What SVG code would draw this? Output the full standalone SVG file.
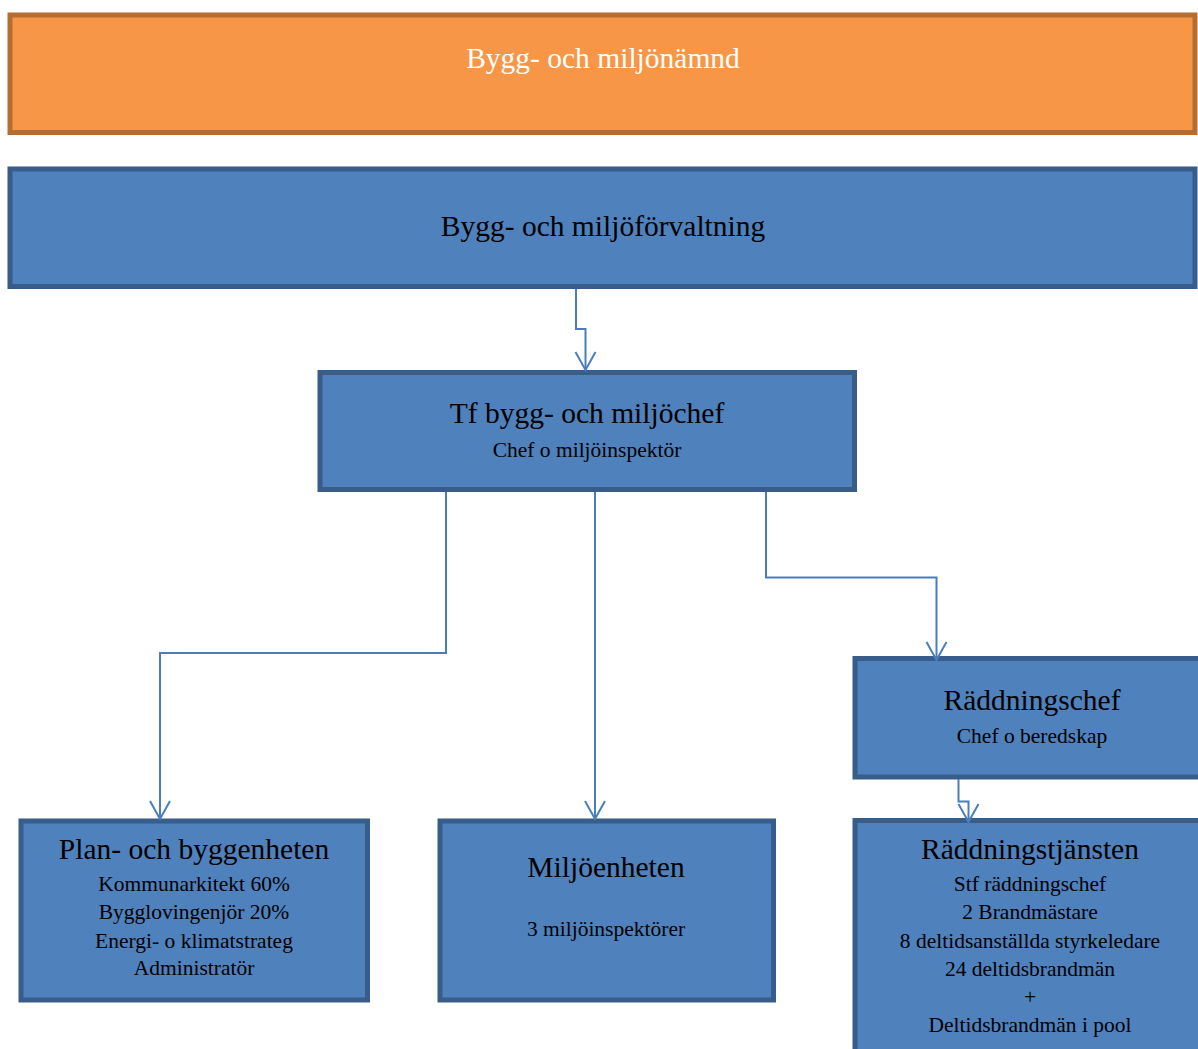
<svg xmlns="http://www.w3.org/2000/svg" width="1198" height="1049" viewBox="0 0 1198 1049">
<style>
.box{fill:#4F81BD;stroke:#385D8A;stroke-width:5}
.top{fill:#F79646;stroke:#B66D31;stroke-width:5}
.t{font-family:"Liberation Serif","Times New Roman",serif;text-anchor:middle;fill:#000}
.h{font-size:29.5px}
.s{font-size:21.5px}
.c{fill:none;stroke:#4A7EBB;stroke-width:2}
</style>
<defs>
<marker id="arr" markerUnits="userSpaceOnUse" markerWidth="24" markerHeight="24" refX="20" refY="11" orient="auto" viewBox="0 0 24 22">
<path d="M2,1 L20,11 L2,21" fill="none" stroke="#4A7EBB" stroke-width="2"/>
</marker>
</defs>
<g id="node-namnd">
<rect class="top" x="10" y="15" width="1185" height="117.5"/>
<text class="t h" x="603" y="68" style="fill:#fff">Bygg- och miljönämnd</text>
</g>
<g id="node-forvaltning">
<rect class="box" x="10" y="169" width="1185" height="117.5"/>
<text class="t h" x="603" y="236">Bygg- och miljöförvaltning</text>
</g>
<g id="node-chef">
<rect class="box" x="320" y="372.5" width="534.5" height="117"/>
<text class="t h" x="587" y="423">Tf bygg- och miljöchef</text>
<text class="t s" x="587" y="457">Chef o miljöinspektör</text>
</g>
<g id="node-raddningschef">
<rect class="box" x="855" y="658.5" width="360" height="118.5"/>
<text class="t h" x="1032" y="710">Räddningschef</text>
<text class="t s" x="1032" y="743">Chef o beredskap</text>
</g>
<g id="node-plan">
<rect class="box" x="21" y="821" width="346.5" height="179"/>
<text class="t h" x="194" y="859">Plan- och byggenheten</text>
<text class="t s" x="194" y="891">Kommunarkitekt 60%</text>
<text class="t s" x="194" y="919">Bygglovingenjör 20%</text>
<text class="t s" x="194" y="948">Energi- o klimatstrateg</text>
<text class="t s" x="194" y="975">Administratör</text>
</g>
<g id="node-miljo">
<rect class="box" x="440" y="821" width="333.5" height="179"/>
<text class="t h" x="606" y="877">Miljöenheten</text>
<text class="t s" x="606" y="936">3 miljöinspektörer</text>
</g>
<g id="node-raddningstjansten">
<rect class="box" x="855" y="820.5" width="360" height="240"/>
<text class="t h" x="1030" y="859">Räddningstjänsten</text>
<text class="t s" x="1030" y="891">Stf räddningschef</text>
<text class="t s" x="1030" y="919">2 Brandmästare</text>
<text class="t s" x="1030" y="948">8 deltidsanställda styrkeledare</text>
<text class="t s" x="1030" y="976">24 deltidsbrandmän</text>
<text class="t s" x="1030" y="1004">+</text>
<text class="t s" x="1030" y="1032">Deltidsbrandmän i pool</text>
</g>
<g id="connectors">
<path class="c" d="M576,289 V329 H585.5 V370" marker-end="url(#arr)"/>
<path class="c" d="M446,492 V653 H160 V819" marker-end="url(#arr)"/>
<path class="c" d="M595,492 V819" marker-end="url(#arr)"/>
<path class="c" d="M766,492 V577.5 H936.5 V660" marker-end="url(#arr)"/>
<path class="c" d="M958.5,779 V801.5 H968.5 V822" marker-end="url(#arr)"/>
</g>
</svg>
